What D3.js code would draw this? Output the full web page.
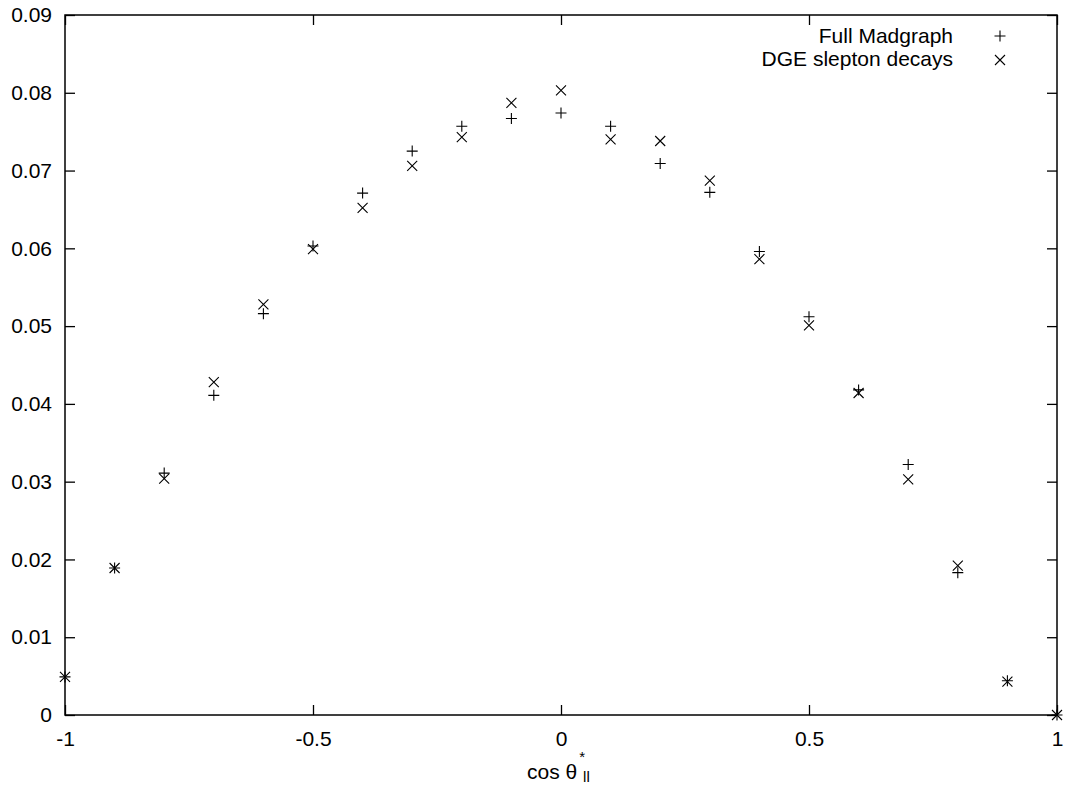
<!DOCTYPE html>
<html><head><meta charset="utf-8">
<script src="https://cdn.jsdelivr.net/npm/d3@7"></script>
<style>body{margin:0;background:#fff}svg{display:block}text{font-family:"Liberation Sans",Arial,sans-serif;fill:#000}</style>
</head><body>
<svg id="c" width="1065" height="787"></svg>
<script>
const xs = [-1,-0.9,-0.8,-0.7,-0.6,-0.5,-0.4,-0.3,-0.2,-0.1,0,0.1,0.2,0.3,0.4,0.5,0.6,0.7,0.8,0.9,1];
const madgraph = [0.0049,0.0189,0.0311,0.0411,0.0516,0.0603,0.0671,0.0725,0.0757,0.0767,0.0774,0.0757,0.0709,0.0672,0.0596,0.0512,0.0418,0.0322,0.0183,0.0044,0];
const dge = [0.0049,0.0189,0.0304,0.0428,0.0528,0.0599,0.0652,0.0706,0.0743,0.0787,0.0803,0.0740,0.0738,0.0687,0.0586,0.0501,0.0414,0.0303,0.0192,0.0043,0];
const xTicks = [-1,-0.5,0,0.5,1];
const xTickLabels = ["-1","-0.5","0","0.5","1"];
const yTicks = [0,0.01,0.02,0.03,0.04,0.05,0.06,0.07,0.08,0.09];
const yTickLabels = ["0","0.01","0.02","0.03","0.04","0.05","0.06","0.07","0.08","0.09"];
const seriesNames = ["Full Madgraph","DGE slepton decays"];

const svg = d3.select("#c");
const L=65,R=1057,T=15,B=715;
const x = d3.scaleLinear().domain([-1,1]).range([L,R]);
const y = d3.scaleLinear().domain([0,0.09]).range([B,T]);
const fs = 21;

function styleAxis(g){ g.select(".domain").remove(); g.selectAll("line").attr("stroke","#000").attr("stroke-width",1.3); g.selectAll("text").attr("font-size",fs).attr("font-family","Liberation Sans, Arial, sans-serif"); }

svg.append("g").attr("transform",`translate(0,${B})`)
  .call(d3.axisBottom(x).tickValues(xTicks).tickSizeInner(-10).tickSizeOuter(0).tickPadding(16).tickFormat((d,i)=>xTickLabels[i]))
  .call(styleAxis);
svg.append("g").attr("transform",`translate(0,${T})`)
  .call(d3.axisTop(x).tickValues(xTicks).tickSizeInner(-10).tickSizeOuter(0).tickFormat(""))
  .call(styleAxis);
svg.append("g").attr("transform",`translate(${L},0)`)
  .call(d3.axisLeft(y).tickValues(yTicks).tickSizeInner(-10).tickSizeOuter(0).tickPadding(13).tickFormat((d,i)=>yTickLabels[i]))
  .call(styleAxis);
svg.append("g").attr("transform",`translate(${R},0)`)
  .call(d3.axisRight(y).tickValues(yTicks).tickSizeInner(-10).tickSizeOuter(0).tickFormat(""))
  .call(styleAxis);

svg.append("rect").attr("x",L).attr("y",T).attr("width",R-L).attr("height",B-T)
  .attr("fill","none").attr("stroke","#000").attr("stroke-width",1.5);

const plus = (cx,cy,s=5.5)=>`M${cx-s},${cy}H${cx+s}M${cx},${cy-s}V${cy+s}`;
const cross = (cx,cy,s=5)=>`M${cx-s},${cy-s}L${cx+s},${cy+s}M${cx-s},${cy+s}L${cx+s},${cy-s}`;

svg.append("g").selectAll("path").data(xs).join("path")
  .attr("d",(d,i)=>plus(x(d),y(madgraph[i]))).attr("stroke","#000").attr("stroke-width",1.1).attr("fill","none");
svg.append("g").selectAll("path").data(xs).join("path")
  .attr("d",(d,i)=>cross(x(d),y(dge[i]))).attr("stroke","#000").attr("stroke-width",1.1).attr("fill","none");

// legend
const leg = svg.append("g");
leg.append("text").attr("x",953).attr("y",43).attr("text-anchor","end").attr("font-size",fs).text(seriesNames[0]);
leg.append("text").attr("x",953).attr("y",66).attr("text-anchor","end").attr("font-size",fs).text(seriesNames[1]);
leg.append("path").attr("d",plus(1000,36)).attr("stroke","#000").attr("stroke-width",1.1);
leg.append("path").attr("d",cross(1000,60)).attr("stroke","#000").attr("stroke-width",1.1);

// x label
const xl = svg.append("text").attr("x",527).attr("y",779).attr("font-size",fs);
xl.append("tspan").text("cos θ");
xl.append("tspan").attr("font-size",15).attr("dy",-17).attr("dx",2).text("*");
xl.append("tspan").attr("font-size",15).attr("dy",20).attr("dx",-2).text("ll");
</script>
</body></html>
